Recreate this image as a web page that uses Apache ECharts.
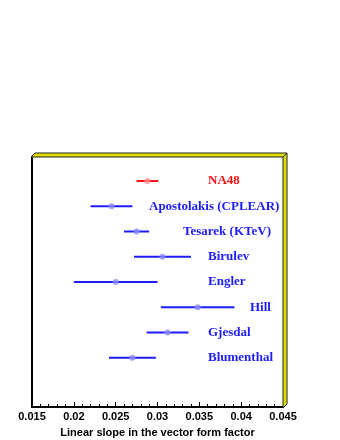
<!DOCTYPE html>
<html><head><meta charset="utf-8">
<script src="https://cdn.jsdelivr.net/npm/echarts@6/dist/echarts.min.js"></script>
<style>html,body{margin:0;padding:0;background:#fff}#c{width:340px;height:440px}</style>
</head><body><div id="c"></div>
<script>
var experiments = ['NA48','Apostolakis (CPLEAR)','Tesarek (KTeV)','Birulev','Engler','Hill','Gjesdal','Blumenthal'];
var rowPos = [9,8,7,6,5,4,3,2];
var slopes = [0.0288,0.0245,0.0275,0.0306,0.0250,0.0348,0.0312,0.0270];
var errors = [0.0013,0.0025,0.0015,0.0034,0.0050,0.0044,0.0025,0.0028];
var xTicks = ['0.015','0.02','0.025','0.03','0.035','0.04','0.045'];
// label left edges in pixels (layout)
var labelLeft = [208,149,183,208,208,250,208,208];

var BLUE = '#1c1cff', LBLUE = '#8c8cff', RED = '#ff1010', LRED = '#ff8c8c';
function lineCol(i){return i===0?RED:BLUE;}
function ptCol(i){return i===0?LRED:LBLUE;}

var chart = echarts.init(document.getElementById('c'), null, {renderer:'canvas'});
var L=32, R=283, T=157, B=407;
var barData = experiments.map(function(n,i){return [slopes[i]-errors[i], slopes[i]+errors[i], rowPos[i], i];});
var ptData = experiments.map(function(n,i){return {value:[slopes[i], rowPos[i]], itemStyle:{color:ptCol(i)}};});
var Y = '#dede00';
chart.setOption({
  animation:false,
  grid:{left:L, top:T, width:R-L, height:B-T, containLabel:false, outerBoundsMode:'none'},
  xAxis:{type:'value', min:0.015, max:0.045, interval:0.005,
    axisLine:{show:true, onZero:false, lineStyle:{color:'#000', width:2}},
    axisTick:{show:true, inside:true, length:5, lineStyle:{color:'#000', width:1}},
    minorTick:{show:true, splitNumber:5, length:3, lineStyle:{color:'#000', width:1}},
    splitLine:{show:false},
    axisLabel:{color:'#000', fontSize:11, fontWeight:'bold', fontFamily:'Liberation Sans', margin:4,
      formatter:function(v){var k=Math.round((v-0.015)/0.005); return xTicks[k]||'';}},
    name:'Linear slope in the vector form factor', nameLocation:'middle', nameGap:20,
    nameTextStyle:{color:'#000', fontSize:11, fontWeight:'bold', fontFamily:'Liberation Sans'}
  },
  yAxis:{type:'value', min:0.05, max:9.95, show:true,
    axisLine:{show:true, onZero:false, lineStyle:{color:'#000', width:2}},
    axisTick:{show:false}, axisLabel:{show:false}, splitLine:{show:false}},
  series:[
    {type:'custom', data:barData, renderItem:function(params, api){
      var i = api.value(3);
      var p1 = api.coord([api.value(0), api.value(2)]);
      var p2 = api.coord([api.value(1), api.value(2)]);
      return {type:'group', children:[
        {type:'line', shape:{x1:p1[0], y1:p1[1], x2:p2[0], y2:p2[1]}, style:{stroke:lineCol(i), lineWidth:2}},
        {type:'text', x:labelLeft[i], y:p1[1], style:{text:experiments[i], fill:lineCol(i),
          font:'bold 13px "Liberation Serif"', textAlign:'left', textVerticalAlign:'middle'}}
      ]};
    }, encode:{x:[0,1], y:2}, z:2},
    {type:'scatter', data:ptData, symbol:'circle', symbolSize:6, z:3}
  ],
  graphic:[
    {type:'polygon', shape:{points:[[31,157],[35,153],[287,153],[283,157]]}, style:{fill:Y, stroke:'#222', lineWidth:1}, z:10},
    {type:'polygon', shape:{points:[[283,157],[287,153],[287,404],[283,408]]}, style:{fill:Y, stroke:'#222', lineWidth:1}, z:10}
  ]
});
</script></body></html>
